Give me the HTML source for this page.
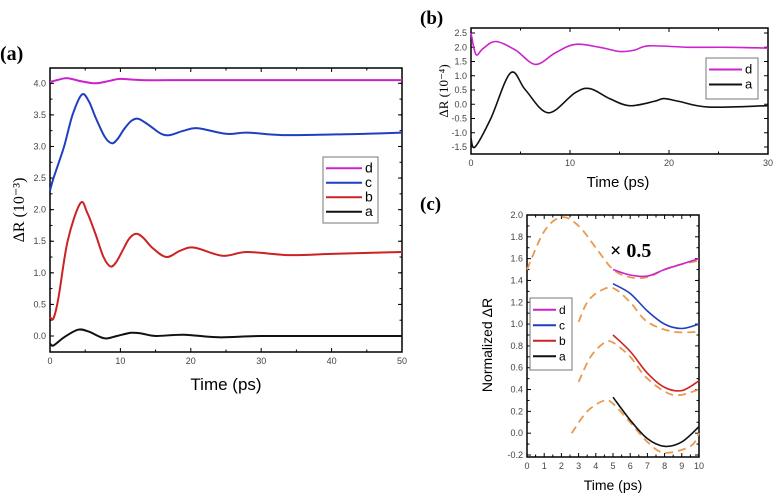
<!DOCTYPE html>
<html><head><meta charset="utf-8"><style>
html,body{margin:0;padding:0;background:#fff;}
svg{display:block;font-family:"Liberation Sans",sans-serif;}
.tk{font-size:9px;fill:#444;}
</style></head><body>
<svg id="fig" width="776" height="494" viewBox="0 0 776 494"></svg>
<script>
// ---- Panel (a) data ----
const aX_d=[0,1,2.5,4.5,6.5,8.5,10,13,20,30,40,50];
const aY_d=[4.02,4.05,4.08,4.03,4.0,4.04,4.07,4.05,4.05,4.05,4.05,4.05];
const aX_c=[0,0.5,2,3.2,4.5,5.5,6.5,7.8,8.8,9.6,10.5,11.5,12.5,13.5,14.5,15.8,17,19,21,25,28,33,40,45,50];
const aY_c=[2.3,2.5,3.0,3.5,3.82,3.72,3.45,3.15,3.05,3.12,3.27,3.4,3.44,3.38,3.3,3.2,3.18,3.25,3.29,3.2,3.22,3.18,3.19,3.2,3.22];
const aX_b=[0,0.5,1.2,2.5,4.3,5.3,6.5,7.6,8.6,9.4,10.3,11.3,12.3,13.3,14.5,16.5,18.5,20.5,24.5,28,34,40,50];
const aY_b=[0.3,0.28,0.6,1.5,2.1,1.95,1.6,1.25,1.1,1.17,1.35,1.55,1.62,1.55,1.4,1.25,1.35,1.4,1.27,1.33,1.28,1.3,1.33];
const aX_a=[0,0.5,2,4,5.5,7,8,9.5,11.5,13,15,19,24,30,40,50];
const aY_a=[-0.12,-0.15,-0.02,0.1,0.07,-0.01,-0.04,0.0,0.05,0.04,0.0,0.02,-0.02,0,0,0];
const aXTicks=[0,10,20,30,40,50];
const aYTicks=["0.0","0.5","1.0","1.5","2.0","2.5","3.0","3.5","4.0"];
// ---- Panel (b) data ----
const bX_d=[0,0.5,1.2,2.5,4.5,6.5,8.5,10.5,13,15,16.5,18,22,26,30];
const bY_d=[2.5,1.75,1.95,2.2,1.9,1.4,1.8,2.1,2.0,1.85,1.9,2.05,2.0,2.0,1.97];
const bX_a=[0,0.4,2,4,5.5,7.8,10.5,12,14,16,18.5,19.5,21,24,30];
const bY_a=[-1.2,-1.5,-0.5,1.1,0.5,-0.3,0.4,0.55,0.2,-0.05,0.1,0.2,0.1,-0.1,-0.05];
const bXTicks=[0,10,20,30];
const bYTicks=["-1.5","-1.0","-0.5","0.0","0.5","1.0","1.5","2.0","2.5"];
// ---- Panel (c) data ----
const cX=[5,6,7,8,9,10];
const cY_d=[1.5,1.45,1.44,1.5,1.55,1.6];
const cY_c=[1.37,1.28,1.12,1.0,0.96,1.0];
const cY_b=[0.9,0.75,0.55,0.42,0.39,0.48];
const cY_a=[0.33,0.12,-0.05,-0.12,-0.08,0.06];
const fX_d=[0,1,2,3,4,5,6,7,8,9,10];
const fY_d=[1.5,1.85,1.98,1.9,1.7,1.5,1.43,1.43,1.5,1.55,1.58];
const fX_c=[3,3.5,4.2,5,6,7,8.5,10];
const fY_c=[1.02,1.2,1.3,1.33,1.2,1.02,0.93,0.93];
const fX_b=[3,3.7,4.5,5,6,7,8.5,10];
const fY_b=[0.47,0.7,0.83,0.83,0.7,0.5,0.35,0.4];
const fX_a=[2.6,3.5,4.5,5,6,7,8,9.5,10];
const fY_a=[0,0.2,0.3,0.27,0.1,-0.08,-0.18,-0.12,0];
const cXTicks=[0,1,2,3,4,5,6,7,8,9,10];
const cYTicks=["-0.2","0.0","0.2","0.4","0.6","0.8","1.0","1.2","1.4","1.6","1.8","2.0"];

const NS="http://www.w3.org/2000/svg";
const svg=document.getElementById('fig');
function mk(tag,attrs,parent){const e=document.createElementNS(NS,tag);for(const k in attrs)e.setAttribute(k,attrs[k]);(parent||svg).appendChild(e);return e;}
function scale(d0,d1,r0,r1){return v=>r0+(v-d0)*(r1-r0)/(d1-d0);}
function smooth(xs,ys,sx,sy){
  const p=xs.map((x,i)=>[sx(x),sy(ys[i])]);
  let d="M"+p[0][0].toFixed(1)+","+p[0][1].toFixed(1);
  for(let i=0;i<p.length-1;i++){
    const p0=p[i-1]||p[i],p1=p[i],p2=p[i+1],p3=p[i+2]||p2;
    const c1=[p1[0]+(p2[0]-p0[0])/6,p1[1]+(p2[1]-p0[1])/6];
    const c2=[p2[0]-(p3[0]-p1[0])/6,p2[1]-(p3[1]-p1[1])/6];
    d+="C"+c1[0].toFixed(1)+","+c1[1].toFixed(1)+" "+c2[0].toFixed(1)+","+c2[1].toFixed(1)+" "+p2[0].toFixed(1)+","+p2[1].toFixed(1);
  }
  return d;
}
function frame(g,L,T,R,B,sx,sy,xt,yt,xMinor,yMinor){
  mk('rect',{x:L,y:T,width:R-L,height:B-T,fill:'none',stroke:'#000','stroke-width':1.5},g);
  xt.forEach(v=>{const x=sx(v);
    mk('line',{x1:x,y1:B,x2:x,y2:B-4,stroke:'#000'},g);mk('line',{x1:x,y1:T,x2:x,y2:T+4,stroke:'#000'},g);
    const t=mk('text',{x:x,y:B+12,'text-anchor':'middle',class:'tk'},g);t.textContent=v;
    
    });
  xMinor.forEach(v=>{const x=sx(v);mk('line',{x1:x,y1:B,x2:x,y2:B-2.5,stroke:'#000'},g);mk('line',{x1:x,y1:T,x2:x,y2:T+2.5,stroke:'#000'},g);});
  yt.forEach(s=>{const y=sy(parseFloat(s));
    mk('line',{x1:L,y1:y,x2:L+4,y2:y,stroke:'#000'},g);mk('line',{x1:R,y1:y,x2:R-4,y2:y,stroke:'#000'},g);
    const t=mk('text',{x:L-4,y:y+3,'text-anchor':'end',class:'tk'},g);t.textContent=s;
    
    });
  yMinor.forEach(v=>{const y=sy(v);mk('line',{x1:L,y1:y,x2:L+2.5,y2:y,stroke:'#000'},g);mk('line',{x1:R,y1:y,x2:R-2.5,y2:y,stroke:'#000'},g);});
}
function series(g,xs,ys,sx,sy,color,name,dash,w){
  const p=mk('path',{d:smooth(xs,ys,sx,sy),fill:'none',stroke:color,'stroke-width':w||2,'stroke-linejoin':'round'},g);
  if(dash)p.setAttribute('stroke-dasharray',dash);
  
  
}
function legend(g,x,y,w,h,entries,dy,fs){
  mk('rect',{x:x,y:y,width:w,height:h,fill:'#fff',stroke:'#777'},g);
  entries.forEach((e,i)=>{const yy=y+dy/2+4+i*dy;
    const l=mk('line',{x1:x+3,y1:yy,x2:x+w-16,y2:yy,stroke:e[1],'stroke-width':2},g);
    
    
    const t=mk('text',{x:x+w-13,y:yy+4,'font-size':fs},g);t.textContent=e[0];
    
    });
}
function txt(g,x,y,s,attrs,name){const t=mk('text',Object.assign({x:x,y:y},attrs),g);t.textContent=s;
  
  return t;}
const range=(a,b,s)=>{const r=[];for(let v=a;v<=b+1e-9;v+=s)r.push(+v.toFixed(3));return r;};

// Panel a
const ga=mk('g',{});


{const L=50,T=68,R=402,B=352;const sx=scale(0,50,L,R),sy=scale(0,4,336,83.3);
 frame(ga,L,T,R,B,sx,sy,aXTicks,aYTicks,range(5,45,10),range(-0.25,4.25,0.25).filter(v=>v>-0.22&&v<4.24));
 series(ga,aX_d,aY_d,sx,sy,'#cc22cc','series-d');
 series(ga,aX_c,aY_c,sx,sy,'#1f3fc0','series-c');
 series(ga,aX_b,aY_b,sx,sy,'#cc2222','series-b');
 series(ga,aX_a,aY_a,sx,sy,'#111','series-a');
 legend(ga,323,157,55,66,[['d','#cc22cc'],['c','#1f3fc0'],['b','#cc2222'],['a','#111']],14.5,14);
 txt(ga,226,390,'Time (ps)',{'text-anchor':'middle','font-size':17},'x-axis-title');
 txt(ga,0,0,'ΔR (10⁻³)',{'text-anchor':'middle','font-size':16,'font-family':'Liberation Serif',transform:'translate(24,210) rotate(-90)'},'y-axis-title');
 txt(ga,0,60,'(a)',{'font-size':20,'font-weight':'bold','font-family':'Liberation Serif'},'panel-label-a');
}
// Panel b
const gb=mk('g',{});


{const L=471,T=28,R=768,B=154;const sx=scale(0,30,L,R),sy=scale(-1.5,2.5,147,33);
 frame(gb,L,T,R,B,sx,sy,bXTicks,bYTicks,range(5,25,10),[]);
 series(gb,bX_d,bY_d,sx,sy,'#cc22cc','series-d',null,1.6);
 series(gb,bX_a,bY_a,sx,sy,'#111','series-a',null,1.6);
 legend(gb,706,58,52,41,[['d','#cc22cc'],['a','#111']],15,13);
 txt(gb,618,187,'Time (ps)',{'text-anchor':'middle','font-size':15},'x-axis-title');
 txt(gb,0,0,'ΔR (10⁻⁴)',{'text-anchor':'middle','font-size':13,'font-family':'Liberation Serif',transform:'translate(448,91) rotate(-90)'},'y-axis-title');
 txt(gb,420,24,'(b)',{'font-size':19,'font-weight':'bold','font-family':'Liberation Serif'},'panel-label-b');
}
// Panel c
const gc=mk('g',{});


{const L=527,T=215,R=699,B=457;const sx=scale(0,10,L,R),sy=scale(-0.2,2.0,455,215);
 frame(gc,L,T,R,B,sx,sy,cXTicks,cYTicks,range(0.5,9.5,1),range(-0.1,1.9,0.2));
 const or='#e89a50',da='8,5';
 series(gc,fX_d,fY_d,sx,sy,or,'fit-d',da,1.8);
 series(gc,fX_c,fY_c,sx,sy,or,'fit-c',da,1.8);
 series(gc,fX_b,fY_b,sx,sy,or,'fit-b',da,1.8);
 series(gc,fX_a,fY_a,sx,sy,or,'fit-a',da,1.8);
 series(gc,cX,cY_d,sx,sy,'#cc22cc','series-d',null,1.6);
 series(gc,cX,cY_c,sx,sy,'#1f3fc0','series-c',null,1.6);
 series(gc,cX,cY_b,sx,sy,'#cc2222','series-b',null,1.6);
 series(gc,cX,cY_a,sx,sy,'#111','series-a',null,1.6);
 legend(gc,530,298,42,72,[['d','#cc22cc'],['c','#1f3fc0'],['b','#cc2222'],['a','#111']],15.5,12);
 txt(gc,610,257,'× 0.5',{'font-size':20,'font-weight':'bold','font-family':'Liberation Serif'},'scale-annotation');
 txt(gc,613,490,'Time (ps)',{'text-anchor':'middle','font-size':14},'x-axis-title');
 txt(gc,0,0,'Normalized ΔR',{'text-anchor':'middle','font-size':14,transform:'translate(492,345) rotate(-90)'},'y-axis-title');
 txt(gc,420,210,'(c)',{'font-size':19,'font-weight':'bold','font-family':'Liberation Serif'},'panel-label-c');
}
</script>
</body></html>
